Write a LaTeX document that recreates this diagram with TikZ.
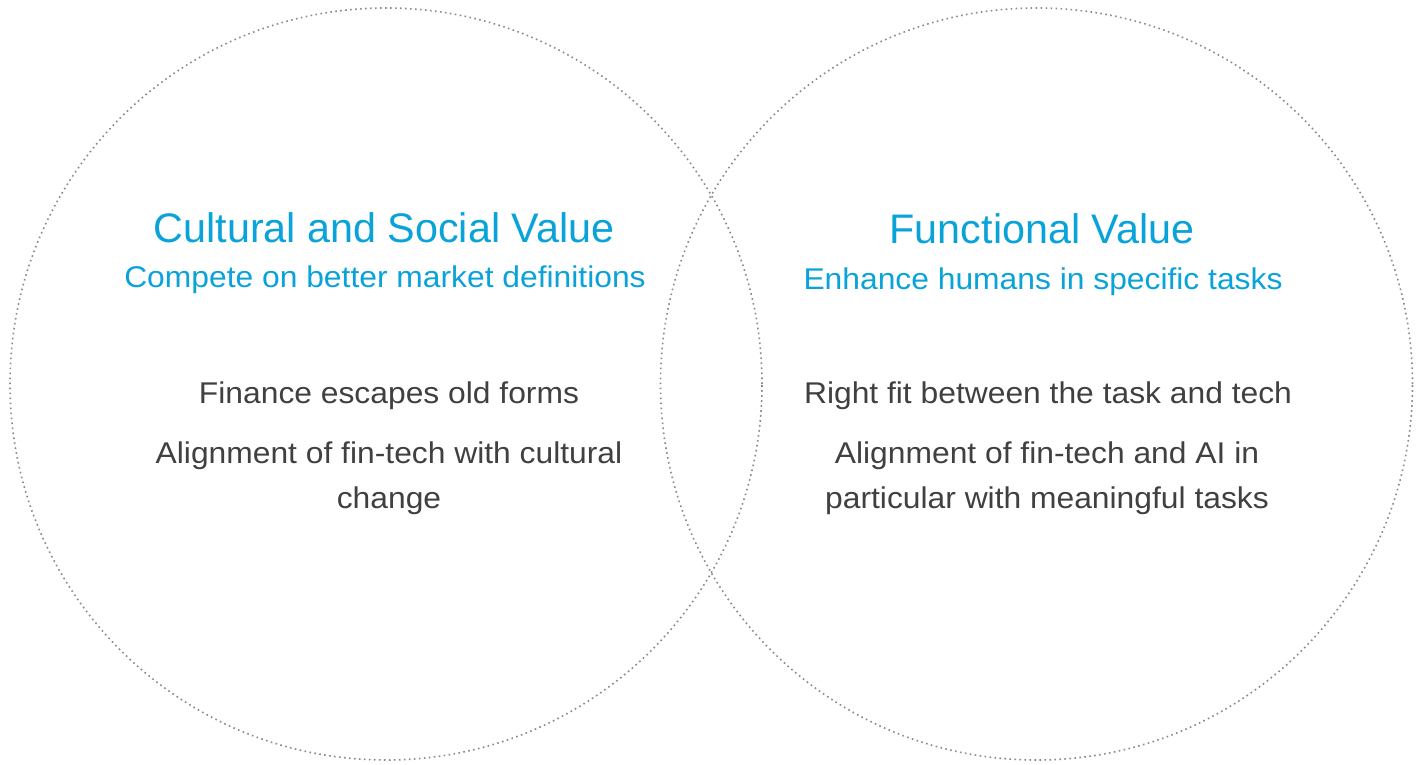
\documentclass[tikz,border=0pt]{standalone}
\usepackage{fontspec}
\setmainfont{Liberation Sans}
\newfontfamily\widefont[FakeStretch=1.06]{Liberation Sans}
\definecolor{accent}{HTML}{0AA3D9}
\definecolor{bodytxt}{HTML}{404040}
\definecolor{ring}{HTML}{8A8A8A}
\begin{document}
\begin{tikzpicture}[x=1pt,y=-1pt,
  ringstyle/.style={draw=ring,line width=1.6pt,dash pattern=on 1.6pt off 3.4pt},
  titletxt/.style={anchor=base,inner sep=0pt,text=accent,font=\fontsize{41.3}{48}\selectfont},
  subtxt/.style={anchor=base,inner sep=0pt,text=accent,font=\widefont\fontsize{30}{36}\selectfont},
  bodytext/.style={anchor=base,inner sep=0pt,text=bodytxt,font=\widefont\fontsize{30}{36}\selectfont}]
\useasboundingbox (0,0) rectangle (1419,765);
\fill[white] (0,0) rectangle (1419,765);
\node[ringstyle,circle,minimum size=752pt,inner sep=0pt] (lc) at (386,384) {};
\node[ringstyle,circle,minimum size=752pt,inner sep=0pt] (rc) at (1036.5,384) {};
\node[titletxt] (lt) at (384,242) {Cultural and Social Value};
\node[subtxt] (ls) at (385,287) {Compete on better market definitions};
\node[bodytext] (lb1) at (389,403) {Finance escapes old forms};
\node[bodytext] (lb2) at (389,463) {Alignment of fin-tech with cultural};
\node[bodytext] (lb3) at (389,508) {change};
\node[titletxt] (rt) at (1042,243) {Functional Value};
\node[subtxt] (rs) at (1043,289) {Enhance humans in specific tasks};
\node[bodytext] (rb1) at (1048,403) {Right fit between the task and tech};
\node[bodytext] (rb2) at (1047,463) {Alignment of fin-tech and AI in};
\node[bodytext] (rb3) at (1047,508) {particular with meaningful tasks};
\end{tikzpicture}
\end{document}
